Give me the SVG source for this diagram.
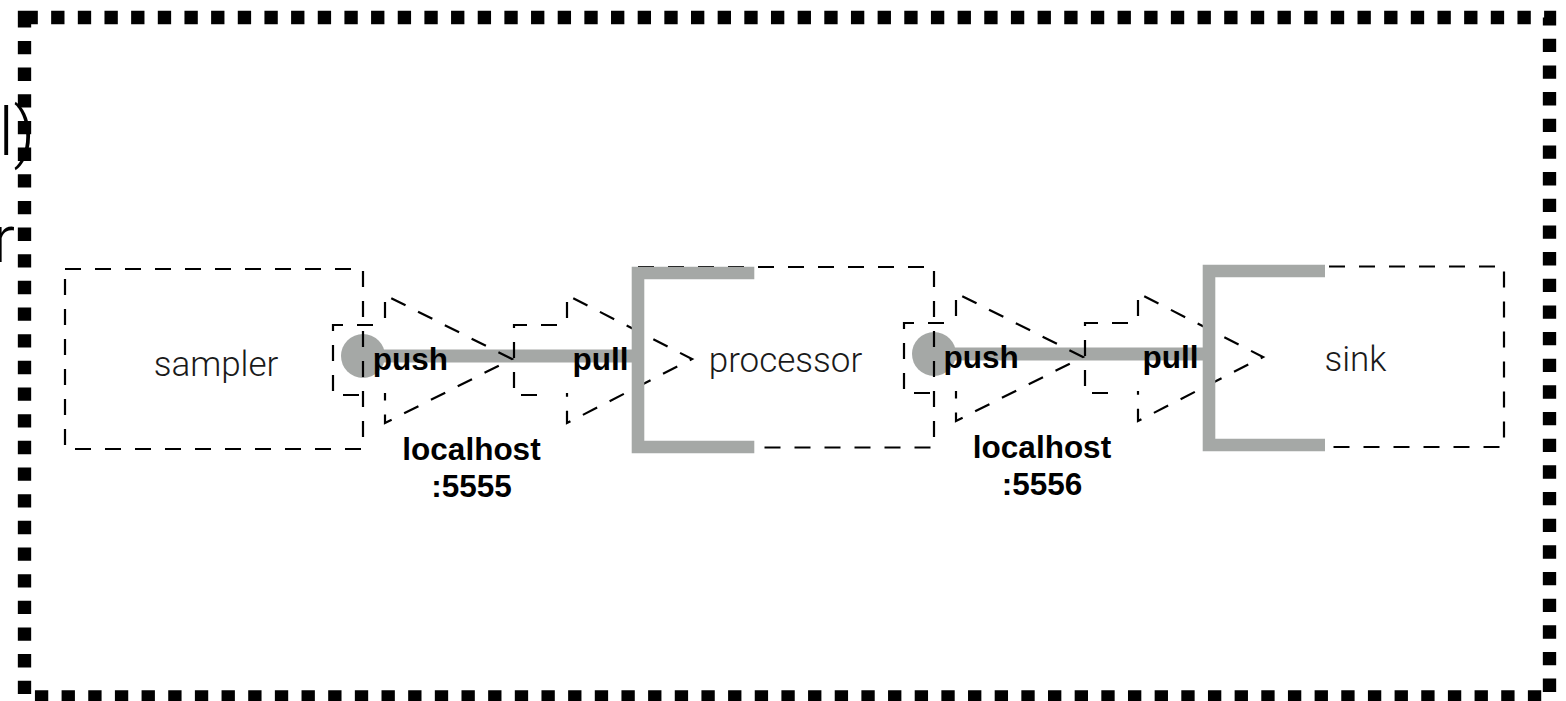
<svg xmlns="http://www.w3.org/2000/svg" width="1566" height="701" viewBox="0 0 1566 701">
  <style>
    .frame { fill: none; stroke: #000; stroke-width: 13.33; stroke-dasharray: 13.33 13.33; }
    .dash { fill: none; stroke: #000; stroke-width: 2.2; stroke-dasharray: 16 14; }
    .wire { fill: none; stroke: #a5a8a6; stroke-width: 13; }
    .bracket { fill: none; stroke: #a5a8a6; stroke-width: 12.6; stroke-linejoin: miter; }
    .dot { fill: #a5a8a6; }
    .name { font-family: Roboto, "Liberation Sans", sans-serif; font-weight: 300; font-size: 35px; fill: #1a1a1a; text-anchor: middle; }
    .lbl { font-family: "Liberation Sans", Arial, sans-serif; font-weight: bold; font-size: 31.5px; fill: #000; }
    .mid { text-anchor: middle; }
    .end { text-anchor: end; }
    .big { font-family: Roboto, "Liberation Sans", sans-serif; font-weight: 300; font-size: 66px; fill: #000; text-anchor: end; }
  </style>

  <!-- text running off the left edge -->
  <text class="big" x="35" y="155">l)</text>
  <text class="big" x="15" y="262">r</text>

  <!-- outer dotted frame -->
  <rect class="frame" x="24.5" y="17.5" width="1525" height="679.5"/>

  <!-- connectors: grey wires with dashed direction arrows -->
  <g id="connectors">
    <path class="wire" d="M363,356 H638"/>
    <path class="dash" d="M385,318 V295 L512,359 L385,423 V393"/>
    <path class="dash" d="M567,318 V295 L692,359 L567,423 V393"/>
    <text class="lbl mid" x="471.5" y="460">localhost</text>
    <text class="lbl mid" x="471.5" y="497">:5555</text>

    <path class="wire" d="M934,354 H1209"/>
    <path class="dash" d="M956,316 V293 L1083,357 L956,421 V391"/>
    <path class="dash" d="M1138,316 V293 L1263,357 L1138,421 V391"/>
    <text class="lbl mid" x="1042" y="458">localhost</text>
    <text class="lbl mid" x="1042" y="495">:5556</text>
  </g>

  <g id="sampler">
    <circle class="dot" cx="363" cy="356" r="22"/>
    <rect class="dash" x="65" y="269" width="298" height="180"/>
    <path class="dash" d="M373,325 H333 V395 H373"/>
    <text class="name" x="216" y="375.5">sampler</text>
    <text class="lbl" x="372.7" y="370">push</text>
  </g>

  <g id="processor">
    <path class="dash" d="M557,325 H514 V395 H547"/>
    <circle class="dot" cx="934" cy="354" r="22"/>
    <rect class="dash" x="638" y="267" width="296" height="180.5"/>
    <path class="bracket" d="M754.3,273 H638 V447 H754.3"/>
    <path class="dash" d="M944,323 H904 V393 H944"/>
    <text class="lbl end" x="628.5" y="370">pull</text>
    <text class="name" x="785.5" y="372">processor</text>
    <text class="lbl" x="943.5" y="368">push</text>
  </g>

  <g id="sink">
    <path class="dash" d="M1128,323 H1085 V393 H1118"/>
    <rect class="dash" x="1209" y="266.5" width="295" height="180.5"/>
    <path class="bracket" d="M1325,271 H1209 V445 H1325"/>
    <text class="lbl end" x="1198.5" y="368">pull</text>
    <text class="name" x="1355.5" y="371">sink</text>
  </g>
</svg>
